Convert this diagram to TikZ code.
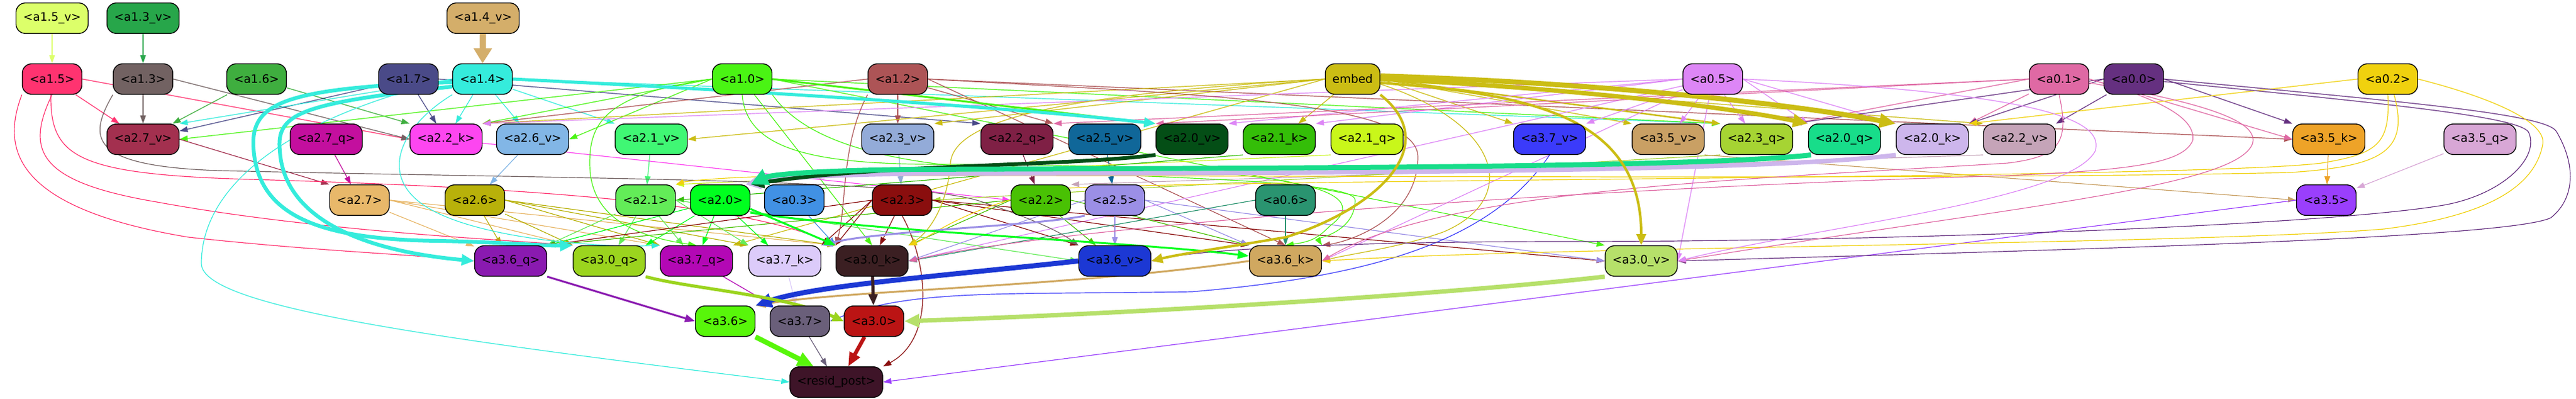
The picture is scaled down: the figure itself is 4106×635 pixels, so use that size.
\documentclass[tikz,border=0pt]{standalone}
\usepackage{fontspec}
\setmainfont{DejaVu Sans}
\usetikzlibrary{arrows.meta}
\pgfdeclarelayer{bgfill}
\pgfdeclarelayer{edges}
\pgfsetlayers{bgfill,edges,main}
\definecolor{ca15v}{HTML}{DCFF6A}\definecolor{ca13v}{HTML}{27A64A}\definecolor{ca14v}{HTML}{D4AE6A}
\definecolor{ca15}{HTML}{FF3370}\definecolor{ca13}{HTML}{726262}\definecolor{ca16}{HTML}{3FAE3F}
\definecolor{ca17}{HTML}{4A4A88}\definecolor{ca14}{HTML}{35ECDC}\definecolor{ca10}{HTML}{4AF414}
\definecolor{ca12}{HTML}{AD5456}\definecolor{cemb}{HTML}{CBBD14}\definecolor{ca05}{HTML}{DD86F6}
\definecolor{ca01}{HTML}{DF69A4}\definecolor{ca00}{HTML}{653080}\definecolor{ca02}{HTML}{F0D10E}
\definecolor{ca27v}{HTML}{A3304F}\definecolor{ca27q}{HTML}{C30F9E}\definecolor{ca22k}{HTML}{FD46F0}
\definecolor{ca26v}{HTML}{82B6E6}\definecolor{ca21v}{HTML}{40F774}\definecolor{ca23v}{HTML}{93ABD8}
\definecolor{ca22q}{HTML}{7F2045}\definecolor{ca25v}{HTML}{106799}\definecolor{ca20v}{HTML}{044E16}
\definecolor{ca21k}{HTML}{34BE08}\definecolor{ca21q}{HTML}{C9F71A}\definecolor{ca37v}{HTML}{3B3BFA}
\definecolor{ca35v}{HTML}{C9A064}\definecolor{ca23q}{HTML}{A6D433}\definecolor{ca20q}{HTML}{18DD8A}
\definecolor{ca20k}{HTML}{CDB6EC}\definecolor{ca22v}{HTML}{C5A4B8}\definecolor{ca35k}{HTML}{EEA328}
\definecolor{ca35q}{HTML}{D8A7D6}\definecolor{ca27}{HTML}{E8B86A}\definecolor{ca26}{HTML}{B8B10A}
\definecolor{ca21}{HTML}{63EC58}\definecolor{ca20}{HTML}{00FF1F}\definecolor{ca03}{HTML}{4191E4}
\definecolor{ca23}{HTML}{8A0E0E}\definecolor{ca22}{HTML}{49C104}\definecolor{ca25}{HTML}{9B8FE6}
\definecolor{ca06}{HTML}{2A9470}\definecolor{ca35}{HTML}{9A3FFC}\definecolor{ca36q}{HTML}{8A1AB0}
\definecolor{ca30q}{HTML}{9BD41E}\definecolor{ca37q}{HTML}{B308B5}\definecolor{ca37k}{HTML}{DCCBFA}
\definecolor{ca30k}{HTML}{3B1F22}\definecolor{ca36v}{HTML}{1C38D4}\definecolor{ca36k}{HTML}{D0A860}
\definecolor{ca30v}{HTML}{B6E06A}\definecolor{ca36}{HTML}{58F60A}\definecolor{ca37}{HTML}{6A5F7A}
\definecolor{ca30}{HTML}{BB1414}\definecolor{crp}{HTML}{3E1428}
\tikzset{
  nd/.style={draw=black, line width=1.35pt, rounded corners=15pt, minimum height=48.6pt, minimum width=95pt, inner sep=0pt, font=\fontsize{18.5pt}{20pt}\selectfont, text=black},
  wn/.style={minimum width=115pt},
  ed/.style={-{Triangle[length=13pt,width=9pt]}, line width=1.2pt},
  md/.style={-{Triangle[length=18pt,width=13pt]}, line width=3pt},
}
\newcommand\edgeL[3]{\draw[ed,color=#1] (#2) -- (#3);}
\begin{document}
\begin{tikzpicture}[x=1pt,y=-1pt]
\begin{pgfonlayer}{bgfill}
\fill[white] (0,0) rectangle (4106,635);
\end{pgfonlayer}
\useasboundingbox (0,0) rectangle (4106,635);
% row 0
\node[nd,wn,fill=ca15v] (a15v) at (83,29) {<a1.5\_v>};
\node[nd,wn,fill=ca13v] (a13v) at (228,29) {<a1.3\_v>};
\node[nd,wn,fill=ca14v] (a14v) at (770,29) {<a1.4\_v>};
% row 1
\node[nd,fill=ca15] (a15) at (83,126) {<a1.5>};
\node[nd,fill=ca13] (a13) at (228,126) {<a1.3>};
\node[nd,fill=ca16] (a16) at (409,126) {<a1.6>};
\node[nd,fill=ca17] (a17) at (651,126) {<a1.7>};
\node[nd,fill=ca14] (a14) at (769,126) {<a1.4>};
\node[nd,fill=ca10] (a10) at (1183,126) {<a1.0>};
\node[nd,fill=ca12] (a12) at (1431,126) {<a1.2>};
\node[nd,fill=cemb,minimum width=87pt] (emb) at (2156,126) {embed};
\node[nd,fill=ca05] (a05) at (2730,126) {<a0.5>};
\node[nd,fill=ca01] (a01) at (3282,126) {<a0.1>};
\node[nd,fill=ca00] (a00) at (3401,126) {<a0.0>};
\node[nd,fill=ca02] (a02) at (3806,126) {<a0.2>};
% row 2
\node[nd,wn,fill=ca27v] (a27v) at (228,222) {<a2.7\_v>};
\node[nd,wn,fill=ca27q] (a27q) at (520,222) {<a2.7\_q>};
\node[nd,wn,fill=ca22k] (a22k) at (711,222) {<a2.2\_k>};
\node[nd,wn,fill=ca26v] (a26v) at (849,222) {<a2.6\_v>};
\node[nd,wn,fill=ca21v] (a21v) at (1038,222) {<a2.1\_v>};
\node[nd,wn,fill=ca23v] (a23v) at (1431,222) {<a2.3\_v>};
\node[nd,wn,fill=ca22q] (a22q) at (1621,222) {<a2.2\_q>};
\node[nd,wn,fill=ca25v] (a25v) at (1761,222) {<a2.5\_v>};
\node[nd,wn,fill=ca20v] (a20v) at (1900,222) {<a2.0\_v>};
\node[nd,wn,fill=ca21k] (a21k) at (2039,222) {<a2.1\_k>};
\node[nd,wn,fill=ca21q] (a21q) at (2179,222) {<a2.1\_q>};
\node[nd,wn,fill=ca37v] (a37v) at (2470,222) {<a3.7\_v>};
\node[nd,wn,fill=ca35v] (a35v) at (2659,222) {<a3.5\_v>};
\node[nd,wn,fill=ca23q] (a23q) at (2800,222) {<a2.3\_q>};
\node[nd,wn,fill=ca20q] (a20q) at (2940,222) {<a2.0\_q>};
\node[nd,wn,fill=ca20k] (a20k) at (3080,222) {<a2.0\_k>};
\node[nd,wn,fill=ca22v] (a22v) at (3219,222) {<a2.2\_v>};
\node[nd,wn,fill=ca35k] (a35k) at (3712,222) {<a3.5\_k>};
\node[nd,wn,fill=ca35q] (a35q) at (3953,222) {<a3.5\_q>};
% row 3
\node[nd,fill=ca27] (a27) at (573,319) {<a2.7>};
\node[nd,fill=ca26] (a26) at (757,319) {<a2.6>};
\node[nd,fill=ca21] (a21) at (1029,319) {<a2.1>};
\node[nd,fill=ca20] (a20) at (1148,319) {<a2.0>};
\node[nd,fill=ca03] (a03) at (1266,319) {<a0.3>};
\node[nd,fill=ca23] (a23) at (1438,319) {<a2.3>};
\node[nd,fill=ca22] (a22) at (1659,319) {<a2.2>};
\node[nd,fill=ca25] (a25) at (1777,319) {<a2.5>};
\node[nd,fill=ca06] (a06) at (2049,319) {<a0.6>};
\node[nd,fill=ca35] (a35) at (3708,319) {<a3.5>};
% row 4
\node[nd,wn,fill=ca36q] (a36q) at (814,416) {<a3.6\_q>};
\node[nd,wn,fill=ca30q] (a30q) at (971,416) {<a3.0\_q>};
\node[nd,wn,fill=ca37q] (a37q) at (1110,416) {<a3.7\_q>};
\node[nd,wn,fill=ca37k] (a37k) at (1251,416) {<a3.7\_k>};
\node[nd,wn,fill=ca30k] (a30k) at (1390,416) {<a3.0\_k>};
\node[nd,wn,fill=ca36v] (a36v) at (1777,416) {<a3.6\_v>};
\node[nd,wn,fill=ca36k] (a36k) at (2049,416) {<a3.6\_k>};
\node[nd,wn,fill=ca30v] (a30v) at (2616,416) {<a3.0\_v>};
% row 5
\node[nd,fill=ca36] (a36) at (1156,512) {<a3.6>};
\node[nd,fill=ca37] (a37) at (1275,512) {<a3.7>};
\node[nd,fill=ca30] (a30) at (1393,512) {<a3.0>};
% row 6
\node[nd,fill=crp,minimum width=148pt] (rp) at (1333,609) {<resid\_post>};

\begin{pgfonlayer}{edges}
% ---- thin straight edges
\edgeL{ca15v}{a15v}{a15}
\edgeL{ca13v}{a13v}{a13}
\edgeL{ca15}{a15}{a27v}
\edgeL{ca15}{a15.east}{a22k.west}
\edgeL{ca13}{a13}{a27v}
\edgeL{ca13}{a13.east}{a22k.west}
\edgeL{ca16}{a16}{a27v}
\edgeL{ca16}{a16}{a22k.north west}
\edgeL{ca17}{a17}{a27v}
\edgeL{ca17}{a17}{a22k}
\edgeL{ca17}{a17.east}{a22q.north west}
\edgeL{ca14}{a14}{a22k}
\edgeL{ca14}{a14}{a26v}
\edgeL{ca14}{a14}{a21v.north west}
\edgeL{ca14}{a14.west}{a27v.north east}
\edgeL{ca14}{a14.east}{a23q.north west}
\edgeL{ca10}{a10.west}{a27v.east}
\edgeL{ca10}{a10.west}{a22k.north east}
\edgeL{ca10}{a10.west}{a26v.east}
\edgeL{ca10}{a10}{a30k.north}
\edgeL{ca10}{a10.east}{a30v.north west}
\edgeL{ca10}{a10.east}{a23q.north west}
\edgeL{ca12}{a12}{a23v}
\edgeL{ca12}{a12}{a22q.north east}
\edgeL{ca12}{a12.east}{a36k.north}
\edgeL{ca12}{a12.east}{a35k.west}
\edgeL{ca12}{a12.west}{a22k.north east}
\edgeL{cemb}{emb}{a21k}
\edgeL{cemb}{emb.west}{a21v.east}
\edgeL{cemb}{emb.west}{a23v.north east}
\edgeL{cemb}{emb.east}{a37v.north west}
\edgeL{cemb}{emb.east}{a35v.north west}
\edgeL{cemb}{emb.west}{a22k.north east}
\edgeL{cemb}{emb.east}{a22v.north west}
\edgeL{cemb}{emb.west}{a37q.north east}
\draw[ed,color=cemb,line width=2.5pt] (emb.east) -- (a23q.north west);
\edgeL{ca05}{a05}{a37v.north east}
\edgeL{ca05}{a05}{a35v}
\edgeL{ca05}{a05}{a23q}
\edgeL{ca05}{a05.east}{a20q.north west}
\edgeL{ca05}{a05.east}{a20k.north west}
\edgeL{ca05}{a05.west}{a21k.north east}
\edgeL{ca05}{a05.west}{a22k.north east}
\edgeL{ca05}{a05.west}{a20v.north east}
\edgeL{ca05}{a05}{a30v.east}
\edgeL{ca05}{a05}{a36k.east}
\edgeL{ca05}{a05}{a30k.east}
\edgeL{ca01}{a01}{a20k.north east}
\edgeL{ca01}{a01.west}{a23q.north east}
\edgeL{ca01}{a01.west}{a22q.north east}
\edgeL{ca01}{a01.west}{a20v.north west}
\edgeL{ca01}{a01.east}{a35k.west}
\edgeL{ca00}{a00.west}{a23q.north east}
\edgeL{ca00}{a00.west}{a20k.north east}
\edgeL{ca00}{a00}{a22v.north east}
\edgeL{ca00}{a00.east}{a35k.north west}
\edgeL{ca02}{a02.west}{a20k.north east}
% row 2 -> row 3
\edgeL{ca27v}{a27v.east}{a27.north west}
\edgeL{ca27q}{a27q}{a27}
\edgeL{ca26v}{a26v}{a26}
\edgeL{ca21v}{a21v}{a21}
\edgeL{ca23v}{a23v}{a23}
\edgeL{ca22q}{a22q}{a22}
\edgeL{ca25v}{a25v}{a25}
\edgeL{ca22k}{a22k}{a22.west}
\edgeL{ca22v}{a22v.south west}{a22.north east}
\edgeL{ca23q}{a23q.south west}{a23.east}
\edgeL{ca21q}{a21q.south west}{a21.north east}
\edgeL{ca21k}{a21k.south west}{a21.east}
\edgeL{ca35k}{a35k}{a35}
\edgeL{ca35q}{a35q}{a35}
\edgeL{ca35v}{a35v.south east}{a35.west}
% row 3 -> row 4
\edgeL{ca27}{a27}{a36q}
\edgeL{ca27}{a27.east}{a30q.north west}
\edgeL{ca27}{a27.east}{a37q.north west}
\edgeL{ca27}{a27.east}{a30k.north west}
\edgeL{ca26}{a26}{a36q}
\edgeL{ca26}{a26}{a30q.north west}
\edgeL{ca26}{a26.east}{a37q.north west}
\edgeL{ca26}{a26.east}{a37k.north west}
\edgeL{ca26}{a26.east}{a30k.north west}
\edgeL{ca21}{a21}{a36q.north east}
\edgeL{ca21}{a21}{a30q}
\edgeL{ca21}{a21}{a37q}
\edgeL{ca21}{a21.east}{a36v.west}
\edgeL{ca21}{a21.east}{a37k.north west}
\edgeL{ca20}{a20}{a36q.north east}
\edgeL{ca20}{a20}{a30q.north east}
\edgeL{ca20}{a20}{a37q}
\edgeL{ca20}{a20}{a37k}
\edgeL{ca03}{a03}{a30k.north west}
\edgeL{ca23}{a23}{a30k}
\edgeL{ca23}{a23.west}{a30k.north west}
\edgeL{ca23}{a23.east}{a36v.north west}
\edgeL{ca23}{a23.east}{a36k.north west}
\edgeL{ca23}{a23.east}{a30v.west}
\edgeL{ca23}{a23.west}{a37k.north east}
\edgeL{ca23}{a23.west}{a36q.north east}
\edgeL{ca22}{a22.west}{a30k.north east}
\edgeL{ca22}{a22}{a36v}
\edgeL{ca22}{a22.east}{a36k.north west}
\edgeL{ca22}{a22.west}{a36q.north east}
\edgeL{ca25}{a25}{a36v}
\edgeL{ca25}{a25.west}{a30k.east}
\edgeL{ca25}{a25.east}{a36k.north west}
\edgeL{ca25}{a25.east}{a30v.west}
\edgeL{ca06}{a06}{a36k}
\edgeL{ca06}{a06.west}{a30k.east}
% row 4 -> 5 -> 6 thin
\edgeL{ca37q}{a37q}{a37}
\edgeL{ca37k}{a37k}{a37}
\edgeL{ca37}{a37}{rp}
\edgeL{ca35}{a35.west}{rp.east}
% ---- thin curves
\draw[ed,color=ca15] (a15.south west) .. controls (5,230) and (10,330) .. (300,378) .. controls (500,400) and (650,405) .. (a36q.west);
\draw[ed,color=ca15] (a15.south) .. controls (40,240) and (60,290) .. (250,322) .. controls (500,368) and (800,382) .. (a30q.north west);
\draw[ed,color=ca15] ([xshift=-2pt]a15.south) .. controls (80,250) and (120,278) .. (400,286) .. controls (900,300) and (1200,330) .. (a30k.north west);
\draw[ed,color=ca13] (a13.south west) .. controls (140,220) and (140,265) .. (350,272) .. controls (900,285) and (1450,285) .. (1560,320) .. controls (1650,350) and (1690,370) .. (a36v.north west);
\draw[ed,color=ca14] (a14.west) .. controls (450,190) and (321,300) .. (321,420) .. controls (321,490) and (700,540) .. (rp.west);
\draw[ed,color=ca14] (a14.south west) .. controls (640,200) and (600,280) .. (680,330) .. controls (760,380) and (950,395) .. (a37q.north west);
\draw[ed,color=ca10] (a10.west) .. controls (960,150) and (940,200) .. (940,260) .. controls (940,340) and (1000,375) .. (a37q.north);
\draw[ed,color=ca10] (a10.south) .. controls (1190,240) and (1300,262) .. (1500,262) .. controls (2050,262) and (2200,300) .. (2120,360) .. controls (2100,380) and (2090,385) .. (a36k.north);
\draw[ed,color=ca10] (a10.south east) .. controls (1300,250) and (1500,270) .. (1700,275) .. controls (1900,285) and (2160,290) .. (2160,319) .. controls (2160,370) and (2100,380) .. (a36k.north east);
\draw[ed,color=ca12] (a12.south west) .. controls (1340,230) and (1350,330) .. (a30k.north west);
\draw[ed,color=ca23] (a23.south) .. controls (1480,420) and (1490,540) .. (rp.north east);
\draw[ed,color=ca37v] (a37v.south) .. controls (2380,380) and (2200,440) .. (1900,465) .. controls (1600,470) and (1450,460) .. (a37.east);
\draw[ed,color=cemb] (emb.west) .. controls (1700,150) and (1520,190) .. (1515,260) .. controls (1510,330) and (1480,370) .. (a30k.north east);
\draw[ed,color=cemb] ([yshift=-8pt]emb.east) .. controls (2400,200) and (2420,320) .. (2300,370) .. controls (2230,395) and (2150,405) .. (a36k.east);
\draw[ed,color=ca12] (a12.east) .. controls (1900,150) and (2260,160) .. (2260,250) .. controls (2260,350) and (2150,385) .. (a36k.north east);
\draw[ed,color=ca00] (a00.east) .. controls (3800,160) and (4060,180) .. (4075,210) .. controls (4110,270) and (4100,320) .. (4066,347) .. controls (4000,380) and (3300,398) .. (a30v.east);
\draw[ed,color=ca00] ([yshift=-4pt]a00.east) .. controls (3800,165) and (4010,185) .. (4030,210) .. controls (4050,250) and (3990,310) .. (3895,327) .. controls (3700,360) and (3000,385) .. (2500,385) .. controls (2100,385) and (1900,400) .. (a36v.east);
\draw[ed,color=ca02] (a02.east) .. controls (3950,150) and (4060,190) .. (4053,230) .. controls (4040,300) and (3960,345) .. (3800,365) .. controls (3500,390) and (2500,392) .. (a36k.east);
\draw[ed,color=ca02] (a02.south) .. controls (3810,230) and (3790,245) .. (3700,260) .. controls (3500,285) and (2000,285) .. (1700,300) .. controls (1550,320) and (1480,380) .. (a30k.north east);
\draw[ed,color=ca02] ([xshift=10pt]a02.south) .. controls (3840,240) and (3800,265) .. (3650,275) .. controls (3000,290) and (1500,275) .. (1200,282) .. controls (1120,285) and (1090,290) .. (a21.north east);
\draw[ed,color=ca01] (a01.east) .. controls (3450,160) and (3500,190) .. (3495,224) .. controls (3480,260) and (3400,271) .. (3200,280) .. controls (2500,300) and (1700,360) .. (a30k.east);
\draw[ed,color=ca01] ([yshift=-6pt]a01.east) .. controls (3550,170) and (3600,200) .. (3590,230) .. controls (3560,300) and (3200,330) .. (a30v.east);
\draw[ed,color=ca01] (a01.south) .. controls (3300,230) and (3280,250) .. (3200,260) .. controls (2800,285) and (2300,300) .. (a36k.east);
\draw[ed,color=ca05] (a05.east) .. controls (3300,150) and (3350,200) .. (3340,240) .. controls (3300,320) and (2900,360) .. (a30v.east);
% ---- medium / thick edges
\draw[md,color=ca25] (a25.south west) .. controls (1650,360) and (1400,368) .. (a37k.north east);
\draw[md,color=ca10] (a10.east) -- (a20v.north west);
\draw[md,color=ca20] ([yshift=-14pt]a20.east) -- (a30k.north west);
\draw[md,color=ca20] ([yshift=-20pt]a20.east) .. controls (1400,370) and (1800,385) .. ([yshift=8pt]a36k.west);
\draw[color=ca14v, line width=10pt, -{Triangle[length=24pt,width=28pt]}] (a14v) -- (a14);
\draw[color=ca14, line width=6pt, -{Triangle[length=20pt,width=17pt]}] ([yshift=-12pt]a14.west) .. controls (480,165) and (440,180) .. (446,240) .. controls (452,340) and (560,398) .. (a36q.west);
\draw[color=ca14, line width=6pt, -{Triangle[length=20pt,width=17pt]}] ([yshift=-5pt]a14.west) .. controls (450,140) and (400,165) .. (404,235) .. controls (410,340) and (500,382) .. (700,384) .. controls (800,386) and (870,392) .. (a30q.north west);
\draw[color=ca14, line width=5pt, -{Triangle[length=18pt,width=15pt]}] (a14.east) .. controls (1200,145) and (1600,170) .. (a20v.north west);
\draw[color=ca20k, line width=7pt, -{Triangle[length=24pt,width=22pt]}] (a20k.south west) .. controls (2800,276) and (2000,276) .. (1450,277) .. controls (1300,279) and (1240,285) .. ([xshift=-8pt]a20.north east);
\draw[color=ca20v, line width=6pt, -{Triangle[length=22pt,width=18pt]}] (a20v.south west) .. controls (1700,265) and (1400,262) .. (a20.north east);
\draw[color=ca20q, line width=8pt, -{Triangle[length=28pt,width=26pt]}] ([xshift=5pt]a20q.south west) .. controls (2700,268) and (2000,268) .. (1450,270) .. controls (1300,272) and (1230,278) .. (a20.north east);
\draw[color=cemb, line width=7pt, -{Triangle[length=24pt,width=20pt]}] (emb.east) .. controls (2500,140) and (2750,170) .. (a20q.north west);
\draw[color=cemb, line width=8pt, -{Triangle[length=26pt,width=22pt]}] ([yshift=5pt]emb.east) .. controls (2550,132) and (2850,165) .. (a20k.north west);
\draw[color=cemb, line width=4pt, -{Triangle[length=18pt,width=15pt]}] ([yshift=-6pt]emb.east) .. controls (2450,150) and (2616,190) .. (a30v.north);
\draw[color=cemb, line width=4pt, -{Triangle[length=18pt,width=15pt]}] (emb.south east) .. controls (2300,230) and (2200,330) .. (2050,378) .. controls (1950,395) and (1880,405) .. (a36v.east);
\draw[color=ca36k, line width=3pt, -{Triangle[length=16pt,width=12pt]}] (a36k.west) .. controls (1700,458) and (1350,462) .. (a36.north east);
\draw[color=ca36v, line width=8pt, -{Triangle[length=26pt,width=22pt]}] (a36v.west) .. controls (1500,440) and (1300,455) .. (a36.north east);
\draw[color=ca30q, line width=5pt, -{Triangle[length=18pt,width=15pt]}] (a30q.south east) .. controls (1100,460) and (1250,470) .. (a30.west);
\draw[color=ca30v, line width=7pt, -{Triangle[length=24pt,width=20pt]}] (a30v.south west) .. controls (2300,470) and (1800,500) .. (a30.east);
\draw[color=ca30k, line width=5pt, -{Triangle[length=18pt,width=14pt]}] (a30k) -- (a30);
\draw[color=ca36q, line width=3pt, -{Triangle[length=16pt,width=12pt]}] (a36q.south east) -- (a36.west);
\draw[color=ca36, line width=8pt, -{Triangle[length=26pt,width=22pt]}] (a36.south east) -- ([xshift=-36pt]rp.north);
\draw[color=ca30, line width=6pt, -{Triangle[length=22pt,width=18pt]}] ([xshift=-15pt]a30.south) -- ([xshift=19pt]rp.north);
\end{pgfonlayer}
\end{tikzpicture}
\end{document}
